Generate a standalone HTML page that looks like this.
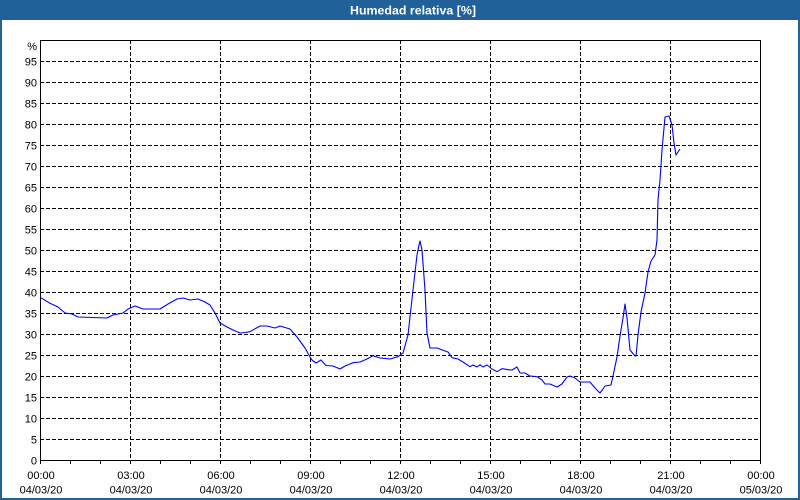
<!DOCTYPE html>
<html>
<head>
<meta charset="utf-8">
<style>
html,body{margin:0;padding:0;background:#fff;}
svg{display:block;}
text{font-family:"Liberation Sans",Arial,sans-serif;}
</style>
</head>
<body>
<svg width="800" height="500" viewBox="0 0 800 500" xmlns="http://www.w3.org/2000/svg">
  <rect x="0" y="0" width="800" height="500" fill="#fdfefd"/>
  <!-- frame -->
  <rect x="0" y="0" width="800" height="20" fill="#1f6198"/>
  <rect x="0" y="0" width="2" height="500" fill="#1f6198"/>
  <rect x="798" y="0" width="2" height="500" fill="#1f6198"/>
  <rect x="0" y="498" width="800" height="2" fill="#1f6198"/>
  <text x="350" y="14.5" font-size="12" font-weight="bold" fill="#ffffff" textLength="126" lengthAdjust="spacingAndGlyphs">Humedad relativa [%]</text>

  <!-- grid -->
  <g stroke="#000" stroke-width="1" stroke-dasharray="4,2" shape-rendering="crispEdges" fill="none">
    <path d="M40 61.5H760 M40 82.5H760 M40 103.5H760 M40 124.5H760 M40 145.5H760 M40 166.5H760 M40 187.5H760 M40 208.5H760 M40 229.5H760 M40 250.5H760 M40 271.5H760 M40 292.5H760 M40 313.5H760 M40 334.5H760 M40 355.5H760 M40 376.5H760 M40 397.5H760 M40 418.5H760 M40 439.5H760"/>
    <path d="M130.5 40V460 M220.5 40V460 M310.5 40V460 M400.5 40V460 M490.5 40V460 M580.5 40V460 M670.5 40V460"/>
  </g>
  <!-- axes box -->
  <g stroke="#000" stroke-width="1" shape-rendering="crispEdges" fill="none">
    <rect x="40.5" y="40.5" width="720" height="420"/>
    <path d="M40.5 460V464 M70.5 460V464 M100.5 460V464 M130.5 460V464 M160.5 460V464 M190.5 460V464 M220.5 460V464 M250.5 460V464 M280.5 460V464 M310.5 460V464 M340.5 460V464 M370.5 460V464 M400.5 460V464 M430.5 460V464 M460.5 460V464 M490.5 460V464 M520.5 460V464 M550.5 460V464 M580.5 460V464 M610.5 460V464 M640.5 460V464 M670.5 460V464 M700.5 460V464 M730.5 460V464 M760.5 460V464"/>
  </g>

  <!-- y labels -->
  <g font-size="11" fill="#000" text-anchor="end">
    <text x="37" y="50">%</text>
    <text x="37" y="65.5">95</text>
    <text x="37" y="86.5">90</text>
    <text x="37" y="107.5">85</text>
    <text x="37" y="128.5">80</text>
    <text x="37" y="149.5">75</text>
    <text x="37" y="170.5">70</text>
    <text x="37" y="191.5">65</text>
    <text x="37" y="212.5">60</text>
    <text x="37" y="233.5">55</text>
    <text x="37" y="254.5">50</text>
    <text x="37" y="275.5">45</text>
    <text x="37" y="296.5">40</text>
    <text x="37" y="317.5">35</text>
    <text x="37" y="338.5">30</text>
    <text x="37" y="359.5">25</text>
    <text x="37" y="380.5">20</text>
    <text x="37" y="401.5">15</text>
    <text x="37" y="422.5">10</text>
    <text x="37" y="443.5">5</text>
    <text x="37" y="464.5">0</text>
  </g>

  <!-- x labels -->
  <g font-size="11" fill="#000" text-anchor="middle">
    <text x="41" y="479">00:00</text><text x="41" y="493.5">04/03/20</text>
    <text x="131" y="479">03:00</text><text x="131" y="493.5">04/03/20</text>
    <text x="221" y="479">06:00</text><text x="221" y="493.5">04/03/20</text>
    <text x="311" y="479">09:00</text><text x="311" y="493.5">04/03/20</text>
    <text x="401" y="479">12:00</text><text x="401" y="493.5">04/03/20</text>
    <text x="491" y="479">15:00</text><text x="491" y="493.5">04/03/20</text>
    <text x="581" y="479">18:00</text><text x="581" y="493.5">04/03/20</text>
    <text x="671" y="479">21:00</text><text x="671" y="493.5">04/03/20</text>
    <text x="761" y="479">00:00</text><text x="761" y="493.5">05/03/20</text>
  </g>

  <!-- series -->
  <polyline fill="none" stroke="#0000ff" stroke-width="1.1" stroke-linejoin="round"
    points="40,297.3 43,299 50,303.3 58,307 65,313 72,314 78,317 93,317.5 107,318 113,315 123,313 128,309 135,306 143,309 160,309 168,304 177,299 183,298 190,300 198,299 205,302 210,305 215,313 220,323 227,327 233,330 240,333 245,332.5 250,331.7 260,326 267,326 275,328 280,326 290,329 297,337 305,348 310,357 312,360 316,363 321,360 326,365.5 333,366 340,369 345,366 353,362.7 360,362 367,359 373,355.7 380,358 390,359 398,356.7 403,353 408,335 413,290 417,255 419,245 420,241 422,250 425,290 427,333 430,348 437,348 445,351 448,352 452,357.7 458,359 463,362 470,366.7 473,365 477,367 480,364.7 483,367 487,365 492,369 497,371.7 502,368.7 508,369.7 512,370 517,367 520,373 525,373 530,376 537,376.7 542,380 545,384 550,384 557,387 562,384 567,377 570,376 575,378 580,382 590,382 595,388 600,393 603,389 605,386 611,385 613,376 617,357 620,336 623,318 625,304 627,318 630,350 635,356 636,356 638,335 641,312 645,293 648,272 651,261 655,255 657,240 658,200 660,180 662,150 665,117 669,116 672,125 674,143 676,155 680,149"/>
</svg>
</body>
</html>
